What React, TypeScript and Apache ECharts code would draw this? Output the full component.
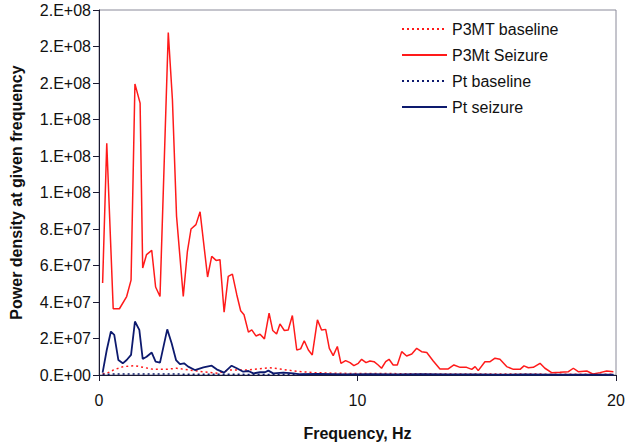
import React, { useEffect, useRef } from "react";
import * as echarts from "echarts";

// Frequencies (Hz) and values (x1e7)
const seizureP3Freq = [0.14,0.30,0.55,0.79,1.07,1.24,1.39,1.59,1.69,1.84,2.04,2.19,2.36,2.68,2.84,3.00,3.26,3.42,3.56,3.75,3.91,4.20,4.36,4.53,4.68,4.84,5.00,5.16,5.33,5.48,5.61,5.78,5.91,6.07,6.23,6.40,6.58,6.72,6.87,7.00,7.17,7.32,7.48,7.65,7.80,7.94,8.10,8.25,8.45,8.61,8.77,8.91,9.06,9.22,9.36,9.54,9.71,9.86,10.03,10.16,10.33,10.48,10.64,10.80,10.93,11.09,11.22,11.38,11.54,11.71,11.90,12.10,12.29,12.48,12.68,12.93,13.19,13.51,13.73,13.97,14.22,14.42,14.55,14.67,14.93,15.13,15.32,15.51,15.77,16.03,16.29,16.44,16.61,16.80,17.06,17.25,17.51,17.83,18.16,18.35,18.54,18.87,19.12,19.38,19.64,19.90];
const seizureP3Val = [5.04,12.7,3.63,3.63,4.3,5.2,15.95,14.9,5.86,6.6,6.83,4.82,4.3,18.77,15.1,8.7,4.3,6.78,8.0,8.24,8.94,5.37,6.5,6.28,6.32,3.44,5.4,5.53,4.4,3.52,3.3,2.35,2.47,2.14,2.23,1.98,3.39,2.44,2.25,2.8,2.44,2.47,3.26,1.37,1.43,1.88,1.37,1.1,3.02,2.47,2.5,1.46,1.06,1.56,0.64,0.79,0.68,0.51,0.64,0.86,0.68,0.77,0.73,0.55,0.37,0.73,0.86,0.55,0.55,1.28,1.04,1.15,1.46,1.28,1.23,0.77,0.33,0.33,0.55,0.42,0.42,0.31,0.46,0.24,0.73,0.73,0.92,0.86,0.46,0.31,0.31,0.5,0.4,0.42,0.64,0.37,0.13,0.15,0.18,0.37,0.18,0.22,0.05,0.13,0.22,0.18];

const baselineP3Freq = [0.14,0.36,0.55,0.94,1.39,1.71,2.10,2.60,3.00,3.50,4.00,4.60,5.00,5.75,6.60,7.00,7.65,8.30,9.00,10.0,11.0,12.0,13.0,14.0,15.0,16.0,17.0,18.0,19.0,19.9];
const baselineP3Val = [0.05,0.13,0.27,0.46,0.51,0.42,0.31,0.31,0.37,0.27,0.18,0.09,0.27,0.27,0.40,0.33,0.20,0.13,0.10,0.08,0.08,0.07,0.06,0.06,0.05,0.05,0.05,0.04,0.04,0.04];

const seizurePtFreq = [0.14,0.30,0.46,0.59,0.75,0.92,1.07,1.24,1.39,1.56,1.69,1.84,2.04,2.19,2.36,2.64,2.81,2.98,3.13,3.29,3.45,3.71,4.04,4.36,4.55,4.84,5.13,5.33,5.58,5.78,5.97,6.23,6.42,6.55,6.74,7.13,7.52,7.78,8.5,9.5,10.5,11.5,12.5,13.5,14.5,15.5,16.5,17.5,18.5,19.9];
const seizurePtVal = [0.13,1.37,2.38,2.2,0.82,0.64,0.82,1.1,2.93,2.47,0.88,1.0,1.23,0.73,0.68,2.5,1.74,0.82,0.59,0.64,0.46,0.27,0.42,0.51,0.31,0.13,0.51,0.37,0.18,0.22,0.09,0.15,0.15,0.24,0.09,0.13,0.09,0.04,0.06,0.03,0.04,0.03,0.05,0.03,0.03,0.02,0.03,0.02,0.02,0.02];

const baselinePtFreq = [0.14,1.0,2.0,3.0,4.0,5.0,6.0,8.0,10.0,12.0,14.0,16.0,18.0,19.9];
const baselinePtVal = [0.04,0.06,0.05,0.05,0.04,0.04,0.03,0.03,0.02,0.02,0.02,0.02,0.02,0.02];

const seriesNames = ["P3MT baseline", "P3Mt Seizure", "Pt baseline", "Pt seizure"];
const xTicks = [0, 10, 20];

const zip = (f: number[], v: number[]) => f.map((x, i) => [x, v[i] * 1e7]);

const fmtY = (v: number) => {
  if (v === 0) return "0.E+00";
  const e = Math.floor(Math.log10(Math.abs(v)) + 1e-9);
  const m = Math.round(v / Math.pow(10, e));
  return `${m}.E+${e < 10 ? "0" + e : e}`;
};

export default function App() {
  const ref = useRef<HTMLDivElement>(null);
  useEffect(() => {
    if (!ref.current) return;
    const chart = echarts.init(ref.current, undefined, { renderer: "svg" });
    const font = "Liberation Sans, Arial, sans-serif";
    const red = "#ff1a1a";
    const navy = "#0d1a6e";
    chart.setOption({
      animation: false,
      backgroundColor: "#ffffff",
      textStyle: { fontFamily: font },
      grid: {
        left: 98, top: 10, right: 13, bottom: 71,
        show: true, borderColor: "#8a8a99", borderWidth: 1, backgroundColor: "transparent",
      },
      legend: {
        orient: "vertical", left: 396, top: 16,
        itemWidth: 45, itemHeight: 14, itemGap: 10,
        itemStyle: { opacity: 0 },
        textStyle: { fontFamily: font, fontSize: 16, color: "#111" },
        data: seriesNames,
      },
      xAxis: {
        type: "value", min: 0, max: 20, interval: 10,
        name: "Frequency, Hz", nameLocation: "middle", nameGap: 50,
        nameTextStyle: { fontFamily: font, fontSize: 16, fontWeight: "bold", color: "#111" },
        axisLine: { lineStyle: { color: "#1a1a33", width: 1 } },
        axisTick: { show: true, length: 6, lineStyle: { color: "#1a1a33" } },
        axisLabel: {
          fontFamily: font, fontSize: 16, color: "#111", margin: 17,
          formatter: (v: number) => (xTicks.includes(v) ? String(v) : ""),
        },
        splitLine: { show: false },
      },
      yAxis: {
        type: "value", min: 0, max: 2e8, interval: 2e7,
        name: "Power density at given frequency", nameLocation: "middle", nameGap: 75,
        nameTextStyle: { fontFamily: font, fontSize: 16, fontWeight: "bold", color: "#111" },
        axisLine: { show: true, lineStyle: { color: "#1a1a33", width: 1 } },
        axisTick: { show: true, length: 6, lineStyle: { color: "#1a1a33" } },
        axisLabel: { fontFamily: font, fontSize: 16, color: "#111", margin: 8, formatter: fmtY },
        splitLine: { show: false },
      },
      series: [
        {
          name: seriesNames[0], type: "line", symbol: "none", showSymbol: false,
          data: zip(baselineP3Freq, baselineP3Val),
          lineStyle: { color: red, width: 1.5, type: [2, 3] }, itemStyle: { color: red },
        },
        {
          name: seriesNames[1], type: "line", symbol: "none", showSymbol: false,
          data: zip(seizureP3Freq, seizureP3Val),
          lineStyle: { color: red, width: 1.5 }, itemStyle: { color: red },
        },
        {
          name: seriesNames[2], type: "line", symbol: "none", showSymbol: false,
          data: zip(baselinePtFreq, baselinePtVal),
          lineStyle: { color: navy, width: 1.5, type: [2, 3] }, itemStyle: { color: navy },
        },
        {
          name: seriesNames[3], type: "line", symbol: "none", showSymbol: false,
          data: zip(seizurePtFreq, seizurePtVal),
          lineStyle: { color: navy, width: 1.8 }, itemStyle: { color: navy },
        },
      ],
    });
    return () => chart.dispose();
  }, []);
  return (
    <div
      ref={ref}
      style={{ position: "fixed", left: 0, top: 0, width: 629, height: 446 }}
    />
  );
}
